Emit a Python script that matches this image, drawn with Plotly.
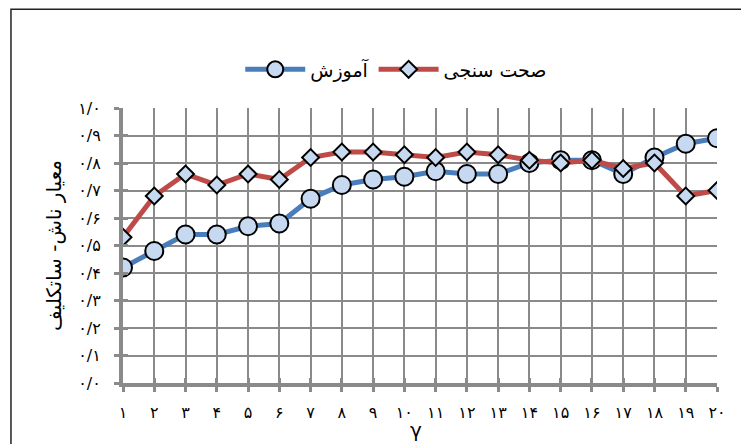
import plotly.graph_objects as go

# Nash–Sutcliffe efficiency per gamma value
gamma = list(range(1, 21))
train_nse = [0.42, 0.48, 0.54, 0.54, 0.57, 0.58, 0.67, 0.72, 0.74, 0.75,
             0.77, 0.76, 0.76, 0.80, 0.81, 0.81, 0.76, 0.82, 0.87, 0.89]
valid_nse = [0.53, 0.68, 0.76, 0.72, 0.76, 0.74, 0.82, 0.84, 0.84, 0.83,
             0.82, 0.84, 0.83, 0.81, 0.80, 0.81, 0.78, 0.80, 0.68, 0.70]

train_name = "آموزش"
valid_name = "صحت سنجی"
y_title = "معیار ناش- ساتکلیف"
x_title = "γ"

fa_digits = str.maketrans("0123456789", "۰۱۲۳۴۵۶۷۸۹")
x_ticktext = [str(g).translate(fa_digits) for g in gamma]
y_tickvals = [i / 10 for i in range(11)]
y_ticktext = [f"{v:.1f}".replace(".", "/").translate(fa_digits) for v in y_tickvals]

FONT = "DejaVu Sans"
GRID = "#8a8a8a"
MARKER_FILL = "#c6d9f1"

fig = go.Figure()
fig.add_trace(go.Scatter(
    x=gamma, y=train_nse, name=train_name, mode="lines+markers",
    line=dict(color="#4a7ebb", width=5),
    marker=dict(symbol="circle", size=18, color=MARKER_FILL,
                line=dict(color="black", width=2)),
))
fig.add_trace(go.Scatter(
    x=gamma, y=valid_nse, name=valid_name, mode="lines+markers",
    line=dict(color="#be4b48", width=5),
    marker=dict(symbol="diamond", size=13, color=MARKER_FILL,
                line=dict(color="black", width=2)),
))

# invisible trace on overlay axes so the inner half of the cross ticks is drawn
fig.add_trace(go.Scatter(x=[gamma[0]], y=[0], xaxis="x2", yaxis="y2",
                         mode="markers", marker=dict(opacity=0),
                         showlegend=False, hoverinfo="skip"))

axis_common = dict(showline=True, linecolor=GRID, linewidth=4,
                   showgrid=True, gridcolor=GRID, gridwidth=1.5,
                   ticks="outside", ticklen=5, tickwidth=3, tickcolor=GRID,
                   zeroline=False, automargin=False,
                   tickfont=dict(family=FONT, size=16, color="black"))

fig.update_layout(
    width=741, height=444,
    margin=dict(l=123, r=24, t=108, b=61, autoexpand=False),
    paper_bgcolor="white", plot_bgcolor="white",
    font=dict(family=FONT, color="black"),
    xaxis=dict(range=[1, 20], tickmode="array", tickvals=gamma, ticktext=x_ticktext,
               ticklabelstandoff=7, **axis_common),
    yaxis=dict(range=[0, 1], tickmode="array", tickvals=y_tickvals, ticktext=y_ticktext,
               ticklabelstandoff=10,
               title=dict(text=y_title, font=dict(family=FONT, size=20), standoff=12),
               **axis_common),
    xaxis2=dict(overlaying="x", range=[1, 20], tickmode="array", tickvals=gamma,
                showticklabels=False, showgrid=False, zeroline=False, showline=False,
                ticks="inside", ticklen=5, tickwidth=3, tickcolor=GRID, side="bottom",
                automargin=False),
    yaxis2=dict(overlaying="y", range=[0, 1], tickmode="array", tickvals=y_tickvals,
                showticklabels=False, showgrid=False, zeroline=False, showline=False,
                ticks="inside", ticklen=5, tickwidth=3, tickcolor=GRID, side="left",
                automargin=False),
    legend=dict(orientation="h", x=0.46, xanchor="center", y=1.14, yanchor="middle",
                font=dict(family=FONT, size=19), bgcolor="rgba(0,0,0,0)",
                itemwidth=60),
    showlegend=True,
)

# x-axis title
fig.add_annotation(text=x_title, xref="paper", yref="paper", x=0.493, y=-0.171,
                   xanchor="center", yanchor="middle", showarrow=False,
                   font=dict(family=FONT, size=20, color="black"))

# outer chart frame
fig.add_shape(type="rect", xref="paper", yref="paper",
              x0=-0.1886, x1=1.06, y0=-0.25, y1=1.3588,
              line=dict(color="#222222", width=1.5), fillcolor="rgba(0,0,0,0)",
              layer="below")

fig.write_html("out.html")
